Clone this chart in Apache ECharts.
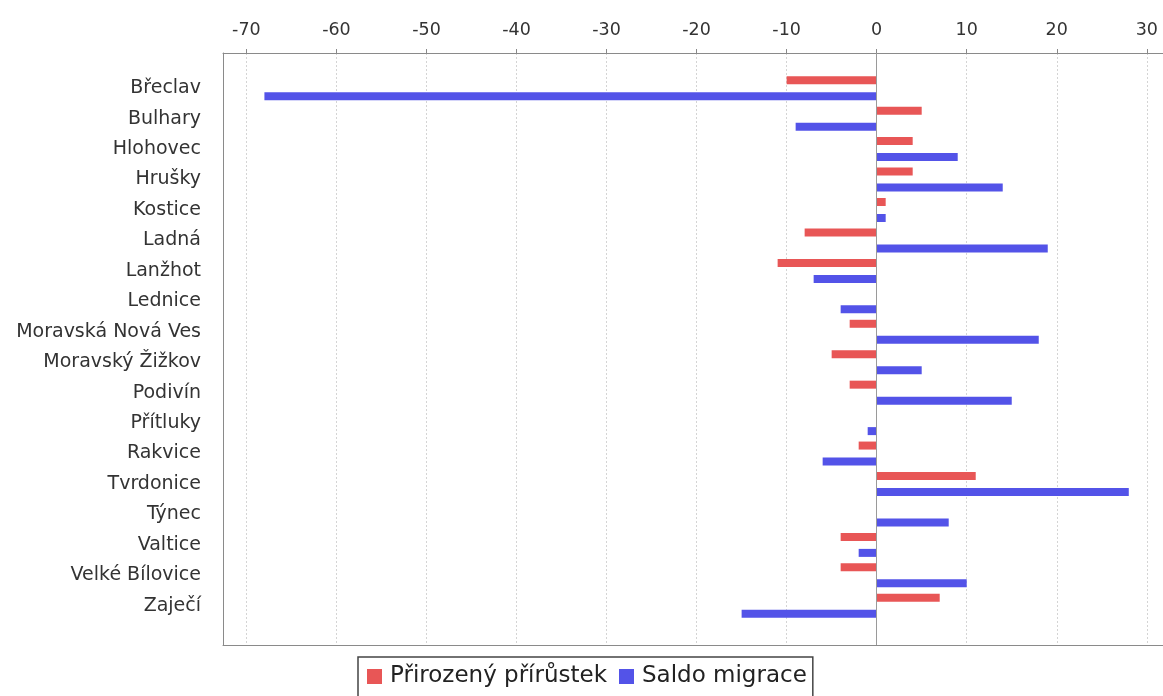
<!DOCTYPE html>
<html>
<head>
<meta charset="utf-8">
<script src="https://cdn.jsdelivr.net/npm/echarts@6/dist/echarts.min.js"></script>
<style>html,body{margin:0;padding:0;background:#fff}#c{width:1163px;height:696px}</style>
</head>
<body>
<div id="c"></div>
<script>
const categories = ['Břeclav','Bulhary','Hlohovec','Hrušky','Kostice','Ladná','Lanžhot','Lednice','Moravská Nová Ves','Moravský Žižkov','Podivín','Přítluky','Rakvice','Tvrdonice','Týnec','Valtice','Velké Bílovice','Zaječí'];
const prirozeny = [-10, 5, 4, 4, 1, -8, -11, 0, -3, -5, -3, 0, -2, 11, 0, -4, -4, 7];
const saldo = [-68, -9, 9, 14, 1, 19, -7, -4, 18, 5, 15, -1, -6, 28, 8, -2, 10, -15];
const tickValues = [-70, -60, -50, -40, -30, -20, -10, 0, 10, 20, 30];
const seriesNames = ['Přirozený přírůstek', 'Saldo migrace'];

const xMin = -72.6, xMax = 31.8;
const font = 'DejaVu Sans';
const borderColor = '#8a8a8a';
const chart = echarts.init(document.getElementById('c'), null, {renderer: 'canvas'});
chart.setOption({
  backgroundColor: '#ffffff',
  animation: false,
  textStyle: {fontFamily: font},
  grid: [
    {left: 223, right: 0, top: 53, bottom: 51},
    {left: 223, right: 0, top: 73, bottom: 75}
  ],
  xAxis: [
    {
      type: 'value', gridIndex: 0, position: 'top', min: xMin, max: xMax,
      axisLine: {show: true, onZero: false, lineStyle: {color: borderColor, width: 1}},
      axisTick: {show: true, length: 4, customValues: tickValues, lineStyle: {color: borderColor}},
      axisLabel: {customValues: tickValues, fontSize: 17.5, color: '#333', margin: 14, fontFamily: font},
      splitLine: {show: true, lineStyle: {color: '#d4d4d4', type: [2, 2], width: 1}}
    },
    {type: 'value', gridIndex: 1, min: xMin, max: xMax, show: false},
    {
      type: 'value', gridIndex: 0, position: 'bottom', min: xMin, max: xMax,
      axisLine: {show: true, onZero: false, lineStyle: {color: borderColor, width: 1}},
      axisTick: {show: false}, axisLabel: {show: false}, splitLine: {show: false}
    }
  ],
  yAxis: [
    {
      type: 'value', gridIndex: 0, min: 0, max: 1, position: 'left',
      axisLine: {show: true, onZero: false, lineStyle: {color: borderColor, width: 1}},
      axisTick: {show: false}, axisLabel: {show: false}, splitLine: {show: false}
    },
    {
      type: 'category', gridIndex: 1, data: categories, inverse: true,
      axisLine: {show: false}, axisTick: {show: false}, splitLine: {show: false},
      axisLabel: {fontSize: 19, color: '#333', margin: 22, fontFamily: font}
    }
  ],
  legend: {
    data: seriesNames,
    left: 358, top: 657,
    orient: 'horizontal',
    padding: [8, 6, 12, 9],
    borderColor: '#444', borderWidth: 1.5,
    itemWidth: 15, itemHeight: 15, itemGap: 12,
    icon: 'rect',
    textStyle: {fontSize: 23, color: '#222', fontFamily: font, padding: [0, 0, 0, 3]}
  },
  series: [
    {
      type: 'scatter', xAxisIndex: 0, yAxisIndex: 0, data: [], silent: true,
      markLine: {silent: true, symbol: ['none', 'none'], label: {show: false},
        lineStyle: {color: '#9a9a9a', type: 'solid', width: 1}, data: [{xAxis: 0}]}
    },
    {
      name: seriesNames[0], type: 'bar', xAxisIndex: 1, yAxisIndex: 1, data: prirozeny,
      barWidth: 8, barGap: '100%', itemStyle: {color: '#e85656'}
    },
    {
      name: seriesNames[1], type: 'bar', xAxisIndex: 1, yAxisIndex: 1, data: saldo,
      barWidth: 8, barGap: '100%', itemStyle: {color: '#5353e8'}
    }
  ]
});
</script>
</body>
</html>
